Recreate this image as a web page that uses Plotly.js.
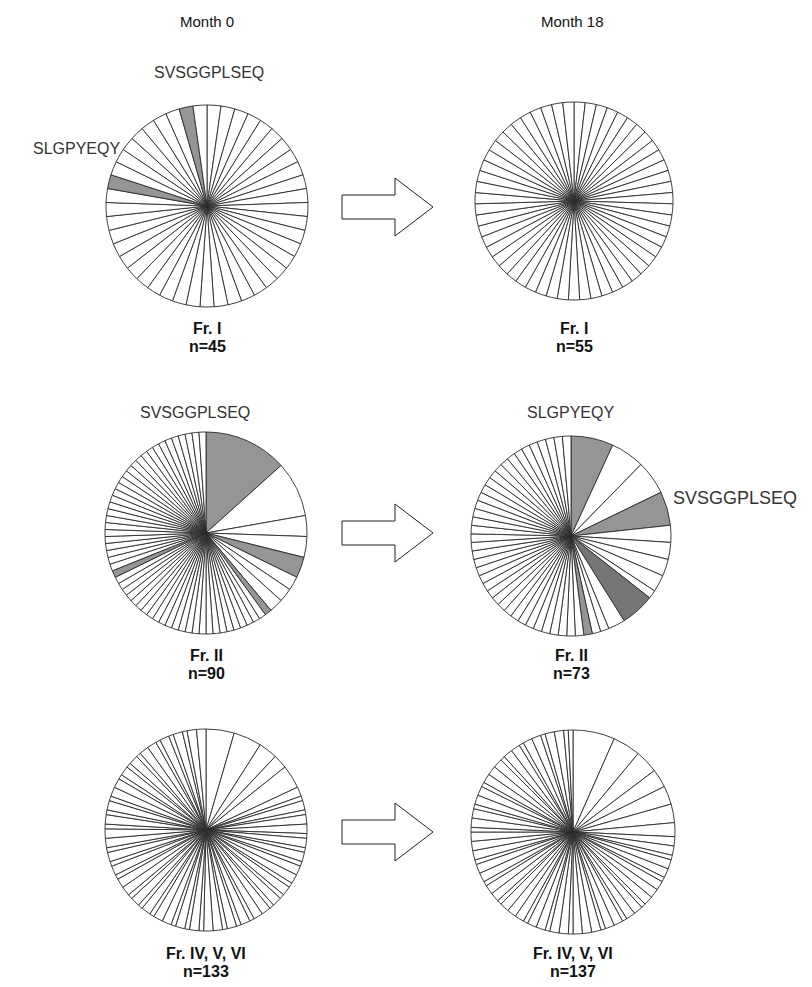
<!DOCTYPE html>
<html>
<head>
<meta charset="utf-8">
<script src="https://cdn.plot.ly/plotly-3.0.1.min.js"></script>
<style>html,body{margin:0;padding:0;background:#fff;}#chart{width:812px;height:987px;}</style>
</head>
<body>
<div id="chart"></div>
<script>
// ---- Data (slice sizes = number of sequences per clonotype, clockwise from 12 o'clock) ----
const columnTitles = ["Month 0", "Month 18"];
const fractionNames = ["Fr. I", "Fr. I", "Fr. II", "Fr. II", "Fr. IV, V, VI", "Fr. IV, V, VI"];
const sampleSizes = [45, 55, 90, 73, 133, 137];

const frI_m0 = [1,1,1,1,1,1,1,1,1,1, 1,1,1,1,1,1,1,1,1,1, 1,1,1,1,1,1,1,1,1,1, 1,1,1,1,1,1,1,1,1,1, 1,1,1,1,1];
const frI_m0_shaded = [35, 43];

const frI_m18 = [1,1,1,1,1,1,1,1,1,1, 1,1,1,1,1,1,1,1,1,1, 1,1,1,1,1,1,1,1,1,1, 1,1,1,1,1,1,1,1,1,1, 1,1,1,1,1,1,1,1,1,1, 1,1,1,1,1];
const frI_m18_shaded = [];

const frII_m0 = [12,8,3,3,3,2,2,2,1,
  1,1,1,1,1,1,1,1,1,1, 1,1,1,1,1,1,1,1,1,1, 1,1,1,1,1,1,1,1,1,1,
  1,1,1,1,1,1,1,1,1,1, 1,1,1,1,1,1,1,1,1,1, 1,1,1,1];
const frII_m0_shaded = [0, 4, 8, 34];

const frII_m18 = [5,4,4,4,2,2,2,2,1,4,2,1,1,1,
  1,1,1,1,1,1,1,1,1,1, 1,1,1,1,1,1,1,1,1,1, 1,1,1,1,1,1,1,1,1,1,
  1,1,1,1,1,1,1,1];
const frII_m18_shaded = [0, 3, 9, 13];
const frII_m18_dark = [9];

const frIV_m0 = [6,6,4,3,5,
  2,1,2,1,2,2,1,2,1,2, 1,2,2,1,2,1,2,1,2,2, 1,2,1,2,1,2,2,1,2,1,
  2,1,2,2,1,2,1,2,1,2, 2,1,2,1,2,1,2,2,1,2, 1,2,1,2,2,1,2,1,2,1,
  2,2,1,2,1,2,1,2,2];
const frIV_m0_shaded = [];

const frIV_m18 = [9,6,5,4,4,4,3,
  2,2,1,2,2,1,2,2,2,1, 2,2,1,2,2,1,2,2,2,1, 2,2,1,2,2,1,2,2,2,1,
  2,2,1,2,2,1,2,2,2,1, 2,2,1,2,2,1,2,2,2,1, 2,2,1,2,2,1,2,2,1,1];
const frIV_m18_shaded = [];

const seqLabels = [
  {pie: 0, text: "SVSGGPLSEQ"}, {pie: 0, text: "SLGPYEQY"},
  {pie: 2, text: "SVSGGPLSEQ"},
  {pie: 3, text: "SLGPYEQY"}, {pie: 3, text: "SVSGGPLSEQ"}
];

// ---- Layout helpers (pixel geometry of the page) ----
const W = 812, H = 987;
const px = x => x / W;
const py = y => 1 - y / H;

const pies = [
  {values: frI_m0,   shaded: frI_m0_shaded,   dark: [],            cx: 207, cy: 206, r: 101},
  {values: frI_m18,  shaded: frI_m18_shaded,  dark: [],            cx: 574, cy: 201, r: 99},
  {values: frII_m0,  shaded: frII_m0_shaded,  dark: [],            cx: 206, cy: 533, r: 101},
  {values: frII_m18, shaded: frII_m18_shaded, dark: frII_m18_dark, cx: 571, cy: 536, r: 100},
  {values: frIV_m0,  shaded: frIV_m0_shaded,  dark: [],            cx: 206, cy: 830, r: 101},
  {values: frIV_m18, shaded: frIV_m18_shaded, dark: [],            cx: 573, cy: 832, r: 102}
];

const traces = pies.map(p => ({
  type: "pie",
  values: p.values,
  labels: p.values.map((v, i) => "s" + i),
  sort: false,
  direction: "clockwise",
  rotation: 0,
  textinfo: "none",
  hoverinfo: "none",
  showlegend: false,
  marker: {
    colors: p.values.map((v, i) => p.dark.includes(i) ? "#767676" : (p.shaded.includes(i) ? "#959595" : "#ffffff")),
    line: {color: "#2a2a2a", width: 0.9}
  },
  domain: {x: [px(p.cx - p.r), px(p.cx + p.r)], y: [py(p.cy + p.r), py(p.cy - p.r)]}
}));

const annotations = [];
const titleFont = {family: "Liberation Sans Narrow, Arial Narrow, Liberation Sans, Arial", size: 15, color: "#111"};
const capFont = {family: "Liberation Sans Narrow, Arial Narrow, Liberation Sans, Arial", size: 16, color: "#111", weight: "bold"};

const colX = [207, 572];
columnTitles.forEach((t, i) => annotations.push({text: t, x: px(colX[i]), y: py(22), xref: "paper", yref: "paper", showarrow: false, xanchor: "center", yanchor: "middle", font: titleFont}));

const capY = [[328, 346], [328, 346], [655, 673], [655, 673], [953, 971], [953, 971]];
pies.forEach((p, i) => {
  annotations.push({text: "<b>" + fractionNames[i] + "</b>", x: px(p.cx), y: py(capY[i][0]), xref: "paper", yref: "paper", showarrow: false, xanchor: "center", yanchor: "middle", font: capFont});
  annotations.push({text: "<b>n=" + sampleSizes[i] + "</b>", x: px(p.cx), y: py(capY[i][1]), xref: "paper", yref: "paper", showarrow: false, xanchor: "center", yanchor: "middle", font: capFont});
});

const seqPos = [
  {x: 209, y: 73, anchor: "center", size: 16},
  {x: 122, y: 148, anchor: "right", size: 16},
  {x: 195, y: 412, anchor: "center", size: 16},
  {x: 570, y: 412, anchor: "center", size: 16},
  {x: 671, y: 498, anchor: "left", size: 18}
];
seqLabels.forEach((s, i) => annotations.push({text: s.text, x: px(seqPos[i].x), y: py(seqPos[i].y), xref: "paper", yref: "paper", showarrow: false, xanchor: seqPos[i].anchor, yanchor: "middle",
  font: {family: "Liberation Sans, Arial, sans-serif", size: seqPos[i].size, color: "#333"}}));

// Outline arrows between columns
const arrowRows = [207, 533, 832];
const shapes = arrowRows.map(cy => {
  const pts = [[342, cy - 12], [395, cy - 12], [395, cy - 29], [433, cy], [395, cy + 29], [395, cy + 12], [342, cy + 12]];
  return {
    type: "path", xref: "paper", yref: "paper",
    path: "M " + pts.map(q => px(q[0]) + "," + py(q[1])).join(" L ") + " Z",
    line: {color: "#222", width: 1}, fillcolor: "#ffffff"
  };
});

const layout = {
  width: W, height: H,
  margin: {l: 0, r: 0, t: 0, b: 0},
  paper_bgcolor: "#ffffff",
  annotations: annotations,
  shapes: shapes
};

Plotly.newPlot("chart", traces, layout, {displayModeBar: false, staticPlot: true});
</script>
</body>
</html>
